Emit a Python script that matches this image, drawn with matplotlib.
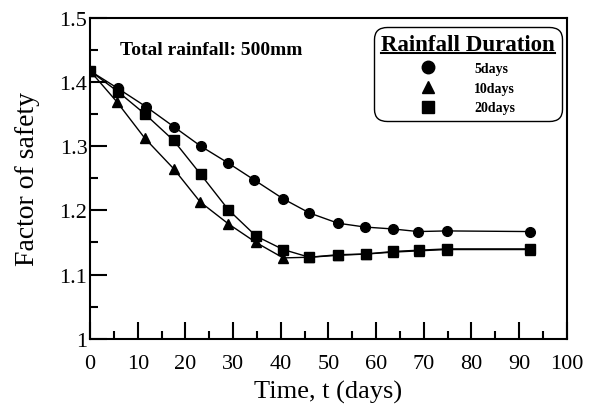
import numpy as np
import matplotlib.pyplot as plt
from matplotlib.lines import Line2D
from matplotlib.ticker import MultipleLocator, FormatStrFormatter

plt.rcParams['font.family'] = ['Liberation Serif', 'DejaVu Serif']

# Factor of safety against time for three rainfall durations
t_5 = [0, 5.8, 11.8, 17.6, 23.2, 28.9, 34.3, 40.5, 46.0, 52.0, 57.7, 63.6, 68.8, 74.8, 92.2]
fs_5 = [1.417, 1.390, 1.361, 1.330, 1.300, 1.274, 1.248, 1.218, 1.196, 1.180, 1.174, 1.171, 1.167, 1.168, 1.167]

t_10 = [0, 5.6, 11.5, 17.5, 23.1, 29.0, 34.8, 40.5, 46.0, 52.0, 57.8, 63.6, 69.0, 74.8, 92.3]
fs_10 = [1.417, 1.369, 1.312, 1.265, 1.213, 1.179, 1.150, 1.126, 1.127, 1.130, 1.132, 1.135, 1.137, 1.139, 1.139]

t_20 = [0, 5.8, 11.5, 17.5, 23.2, 29.0, 34.8, 40.5, 46.0, 52.0, 57.8, 63.6, 69.0, 74.8, 92.3]
fs_20 = [1.417, 1.385, 1.350, 1.309, 1.256, 1.201, 1.160, 1.139, 1.127, 1.131, 1.132, 1.136, 1.138, 1.140, 1.140]

labels = ['5days', '10days', '20days']

fig = plt.figure(figsize=(6.01, 4.06), dpi=100)
ax = fig.add_axes([0.150, 0.163, 0.793, 0.791])

ax.plot(t_5, fs_5, color='black', lw=1.0, marker='o', ms=7)
ax.plot(t_20, fs_20, color='black', lw=1.0, marker='s', ms=7)
ax.plot(t_10, fs_10, color='black', lw=1.0, marker='^', ms=7)

ax.set_xlim(0, 100)
ax.set_ylim(1.0, 1.5)
ax.xaxis.set_major_locator(MultipleLocator(10))
ax.xaxis.set_minor_locator(MultipleLocator(5))
ax.yaxis.set_major_locator(MultipleLocator(0.1))
ax.yaxis.set_minor_locator(MultipleLocator(0.05))
ax.yaxis.set_major_formatter(FormatStrFormatter('%g'))
ax.tick_params(which='both', direction='in', top=False, right=False, width=1.5, labelsize=16)
ax.tick_params(which='major', length=12)
ax.tick_params(which='minor', length=6)
ax.tick_params(axis='x', pad=11)
ax.tick_params(axis='y', pad=2)
for s in ax.spines.values():
    s.set_linewidth(1.5)

ax.set_xlabel('Time, t (days)', fontsize=19, labelpad=5)
ax.set_ylabel('Factor of safety', fontsize=20, labelpad=14)

ax.text(0.063, 0.9, 'Total rainfall: 500mm', transform=ax.transAxes,
        fontsize=14, fontweight='bold', va='center', ha='left')

handles = [Line2D([], [], color='black', ls='none', marker=m, ms=9) for m in ['o', '^', 's']]
leg = ax.legend(handles, labels, loc='upper right', bbox_to_anchor=(0.990, 0.972),
                title='Rainfall Duration', prop={'weight': 'bold', 'size': 10},
                handlelength=1.0, handletextpad=2.8, labelspacing=0.5,
                borderpad=0.5, borderaxespad=0, fancybox=True, framealpha=1,
                edgecolor='black')
leg.get_title().set_fontsize(16.5)
leg.get_title().set_fontweight('bold')
leg.get_frame().set_linewidth(1.0)
leg.get_frame().set_boxstyle('round,pad=0,rounding_size=0.9')
leg._legend_box.sep = 5
for txt in leg.get_texts():
    txt.set_ha('left')

# underline the legend title
fig.canvas.draw()
bb = leg.get_title().get_window_extent().transformed(fig.transFigure.inverted())
fig.add_artist(Line2D([bb.x0, bb.x1], [bb.y0 + 0.004, bb.y0 + 0.004],
                      transform=fig.transFigure, color='black', lw=1.5))

fig.savefig('out.png', dpi=100)
